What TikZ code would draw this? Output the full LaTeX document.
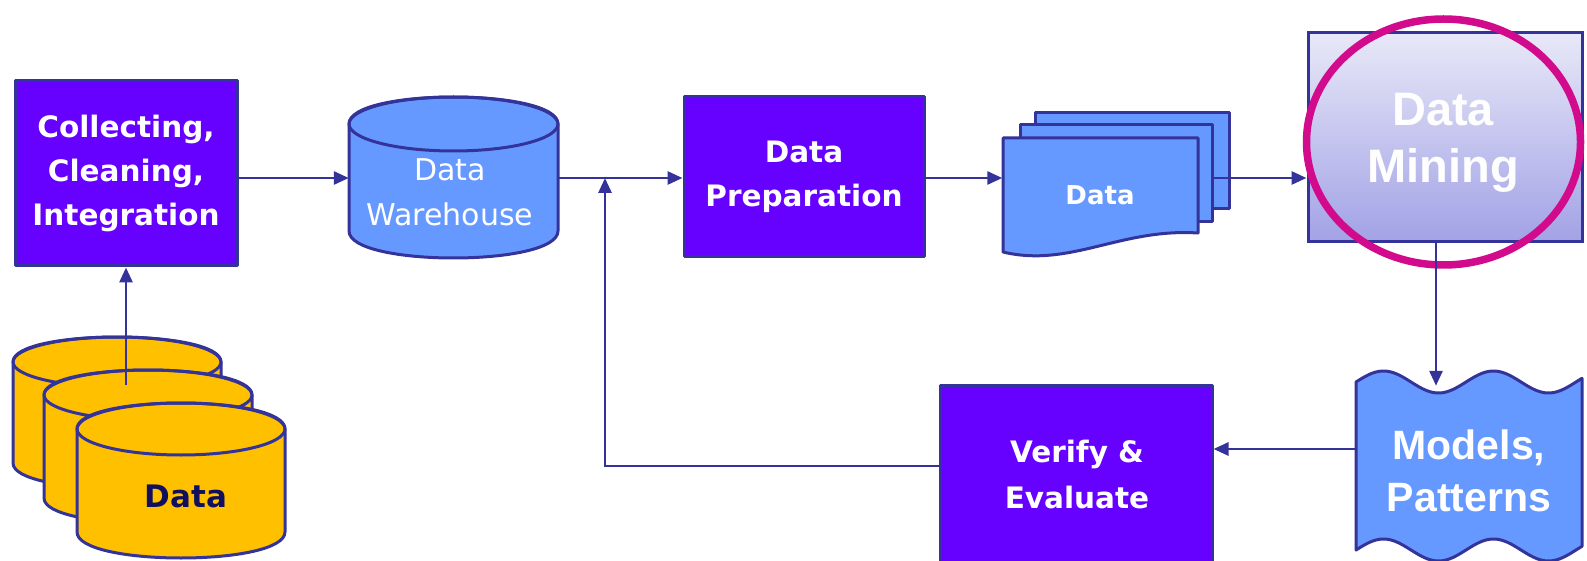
\documentclass[tikz,border=0pt]{standalone}
\usepackage{fontspec}
\usetikzlibrary{arrows.meta}
\newfontfamily\handfont{DejaVu Sans}
\newfontfamily\arialfont{Liberation Sans}
\definecolor{edge}{HTML}{333399}
\definecolor{procviolet}{HTML}{6600FF}
\definecolor{storeblue}{HTML}{6699FF}
\definecolor{drumyellow}{HTML}{FFC000}
\definecolor{navytext}{HTML}{10105E}
\definecolor{minetop}{HTML}{E8E8F8}
\definecolor{minebot}{HTML}{A2A2E6}
\definecolor{ringmagenta}{HTML}{D20A8C}

% drum (database cylinder): name, left, top, width, height, end radius, fill
\newcommand\drum[7]{%
  \filldraw[shapeline, fill=#7] (#2,{#3+#6}) -- (#2,{#3+#5-#6})
    .. controls (#2,{#3+#5-#6+1.3333*#6}) and ({#2+#4},{#3+#5-#6+1.3333*#6}) .. ({#2+#4},{#3+#5-#6})
    -- ({#2+#4},{#3+#6})
    .. controls ({#2+#4},{#3+#6-1.3333*#6}) and (#2,{#3+#6-1.3333*#6}) .. (#2,{#3+#6}) -- cycle;
  \draw[shapeline] ({#2+#4/2},{#3+#6}) ellipse[x radius={#4/2}, y radius=#6];
  \node[inner sep=0, minimum width=#4, minimum height=#5] (#1) at ({#2+#4/2},{#3+#5/2}) {};
}

\begin{document}
\begin{tikzpicture}[x=1pt, y=-1pt,
  shapeline/.style={draw=edge, line width=3pt, line join=round},
  procbox/.style={shapeline, fill=procviolet, inner sep=0, text=white, align=center,
    font=\handfont\bfseries\fontsize{29.5}{44}\selectfont},
  docbox/.style={shapeline, fill=storeblue, inner sep=0},
  flow/.style={draw=edge, line width=2.8pt},
  arr/.style={flow, -{Triangle[length=15pt,width=13pt]}}]
\useasboundingbox (0,0) rectangle (1587,561);

% main row and return rows
\coordinate (row) at (0,178);
\coordinate (rowb) at (0,449);
\coordinate (rowc) at (0,466);

% source databases
\drum{c1}{13}{337}{208}{151}{25}{drumyellow}
\drum{c2}{44}{370}{208}{153}{25}{drumyellow}
\drum{c3}{77}{403}{208}{155}{26}{drumyellow}
\node[text=navytext, font=\handfont\bfseries\fontsize{31}{36}\selectfont] (srclabel) at (186,496) {Data};

% collecting step
\node[procbox, minimum width=222, minimum height=185] (cc) at (126,173.5)
  {Collecting,\\Cleaning,\\Integration};

% warehouse
\drum{dw}{349}{97}{209}{161}{27}{storeblue}
\node[text=white, align=center, font=\handfont\fontsize{30}{45}\selectfont] (dwlabel) at (450,192)
  {Data\\Warehouse};

% preparation step
\node[procbox, minimum width=240, minimum height=160] (dp) at (804,177) {Data\\Preparation};

% stack of data documents
\node[docbox, minimum width=194, minimum height=96] (d3) at (1132,161) {};
\node[docbox, minimum width=192, minimum height=97] (d2) at (1116,173.5) {};
\filldraw[shapeline, fill=storeblue] (1003,138) -- (1198,138) -- (1198,233)
  .. controls (1120,228) and (1070,268) .. (1003,252) -- cycle;
\node[inner sep=0, minimum width=195, minimum height=115, text=white,
  font=\handfont\bfseries\fontsize{26}{30}\selectfont] (d1) at (1100,195) {Data};

% data mining step
\node[draw=edge, line width=3pt, top color=minetop, bottom color=minebot, inner sep=0,
  minimum width=274, minimum height=209] (dm) at (1445,137.5) {};
\node[text=white!94!minetop, align=center, font=\arialfont\bfseries\fontsize{47}{57}\selectfont]
  (dmlabel) at (1443,143) {Data\\Mining};
\draw[draw=ringmagenta, line width=7.5pt] (1443.5,142) ellipse[x radius=137, y radius=123];

% models and patterns: punched-tape outline with wavy top and bottom
\filldraw[shapeline, fill=storeblue]
  plot[domain=1356:1582, samples=80] (\x, {382-11*sin((\x-1356)*3.272727)})
  -- plot[domain=1582:1356, samples=80] (\x, {550-11*sin((\x-1356)*3.272727)}) -- cycle;
\node[inner sep=0, minimum width=226, minimum height=170, text=white, align=center,
  font=\arialfont\bfseries\fontsize{41}{52}\selectfont] (mp) at (1469,471) {Models,\\Patterns};

% verification step
\node[procbox, minimum width=272, minimum height=190] (ve) at (1076,480) {};
\node[text=white, align=center, font=\handfont\bfseries\fontsize{29.5}{46}\selectfont] (velabel)
  at (1077,474) {Verify \&\\Evaluate};

% connectors
\coordinate (join) at (605,178);
\draw[arr] ([yshift=-15pt]c2.north -| cc.south) -- (cc.south);
\draw[arr] (cc.east |- row) -- (dw.west |- row);
\draw[arr] (dw.east |- row) -- (dp.west |- row);
\draw[arr] (dp.east |- row) -- (d1.west |- row);
\draw[arr] (d2.east |- row) -- (dm.west |- row);
\draw[arr] ([xshift=-9pt]dm.south) -- ([xshift=-9pt]dm.south |- mp.north);
\draw[arr] (mp.west |- rowb) -- (ve.east |- rowb);
\draw[arr] (ve.west |- rowc) -| (join);
\end{tikzpicture}
\end{document}
